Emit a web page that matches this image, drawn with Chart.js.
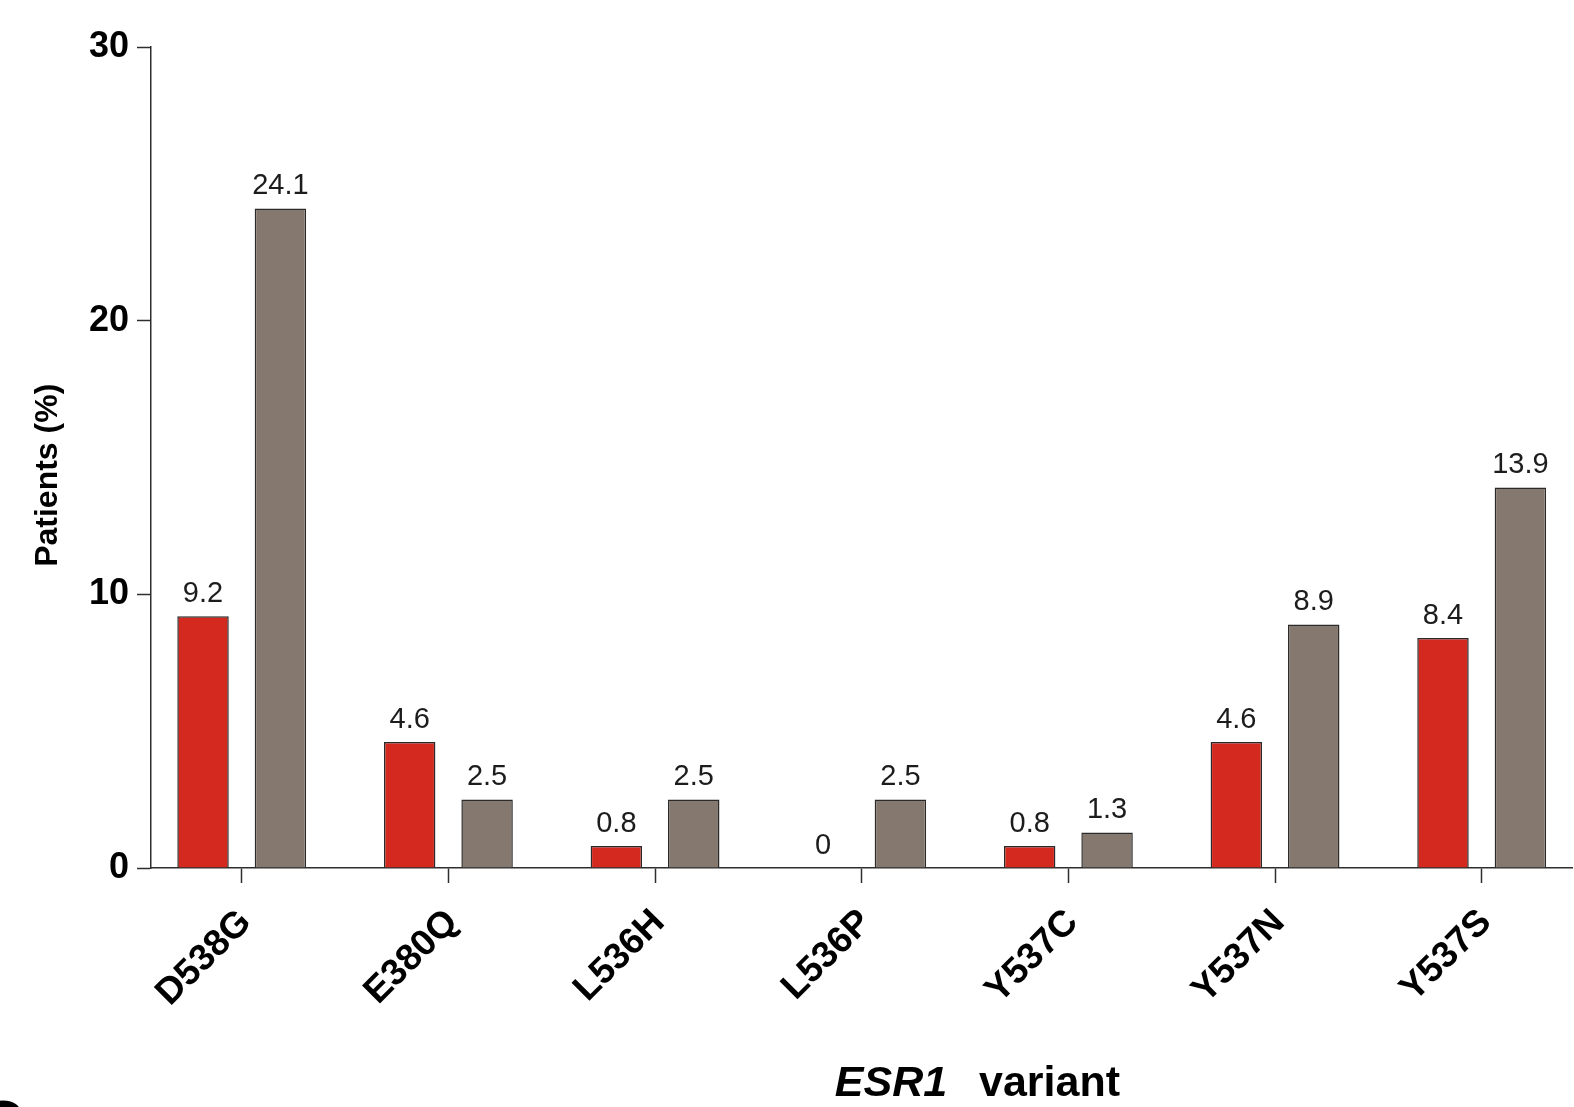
<!DOCTYPE html>
<html>
<head>
<meta charset="utf-8">
<title>ESR1 variants</title>
<script src="https://cdn.jsdelivr.net/npm/chart.js@4/dist/chart.umd.min.js"></script>
<style>
  html, body { margin: 0; padding: 0; background: #ffffff; overflow: hidden; }
  #wrap { position: relative; width: 1574px; height: 1107px; }
  canvas { display: block; }
</style>
</head>
<body>
<div id="wrap"><canvas id="chart" width="1574" height="1107"></canvas></div>
<script>
// Variant categories and the share of patients (%) in each group
const variants = ['D538G', 'E380Q', 'L536H', 'L536P', 'Y537C', 'Y537N', 'Y537S'];
const groupRed = [9.2, 4.6, 0.8, 0, 0.8, 4.6, 8.4];
const groupGrey = [24.1, 2.5, 2.5, 2.5, 1.3, 8.9, 13.9];
const yTickValues = [0, 10, 20, 30];
const axisTitleItalic = 'ESR1';
const axisTitleRest = 'variant';
const panelLetter = 'C';

const FONT = '"Liberation Sans", Arial, Helvetica, sans-serif';
const AXIS_COLOR = '#2e2e2e';

Chart.defaults.font.family = FONT;

const toPoints = (vals) => vals.map((v, i) => ({ x: i, y: v }));

// Numbers printed above each bar
const valueLabels = {
  id: 'valueLabels',
  afterDatasetsDraw(chart) {
    const ctx = chart.ctx;
    ctx.save();
    ctx.font = '29px ' + FONT;
    ctx.fillStyle = '#1c1c1c';
    ctx.textAlign = 'center';
    ctx.textBaseline = 'alphabetic';
    chart.data.datasets.forEach((ds, di) => {
      chart.getDatasetMeta(di).data.forEach((bar, i) => {
        ctx.fillText(String(ds.data[i].y), bar.x, bar.y - 14.5);
      });
    });
    ctx.restore();
  }
};

// Horizontal axis title with the gene name in italics
const xAxisTitle = {
  id: 'xAxisTitle',
  afterDraw(chart) {
    const ctx = chart.ctx;
    const xs = chart.scales.x;
    ctx.save();
    const italicFont = 'italic bold 43px ' + FONT;
    const boldFont = 'bold 43px ' + FONT;
    ctx.font = italicFont;
    const w1 = ctx.measureText(axisTitleItalic).width;
    ctx.font = boldFont;
    const gap = ctx.measureText('  ').width + 8;
    const w2 = ctx.measureText(axisTitleRest).width;
    const total = w1 + gap + w2;
    const cx = xs.getPixelForValue(3.56);
    const startX = cx - total / 2;
    const baseY = 1096;
    ctx.fillStyle = '#000000';
    ctx.textAlign = 'left';
    ctx.textBaseline = 'alphabetic';
    ctx.font = italicFont;
    ctx.fillText(axisTitleItalic, startX, baseY);
    ctx.font = boldFont;
    ctx.fillText(axisTitleRest, startX + w1 + gap, baseY);
    // next panel's letter, cut by the lower edge
    ctx.font = 'bold 60px ' + FONT;
    ctx.textAlign = 'center';
    ctx.fillText(panelLetter, 2, 1142);
    ctx.restore();
  }
};

new Chart(document.getElementById('chart'), {
  type: 'bar',
  data: {
    datasets: [
      {
        label: 'Group 1',
        data: toPoints(groupRed),
        backgroundColor: '#d3291e',
        borderColor: '#2a2a2a',
        borderWidth: 1.5,
        categoryPercentage: 0.749,
        barPercentage: 0.665
      },
      {
        label: 'Group 2',
        data: toPoints(groupGrey),
        backgroundColor: '#85796f',
        borderColor: '#2a2a2a',
        borderWidth: 1.5,
        categoryPercentage: 0.749,
        barPercentage: 0.665
      }
    ]
  },
  options: {
    responsive: false,
    animation: false,
    devicePixelRatio: 1,
    layout: { padding: { top: 47, right: 2, left: 0, bottom: 0 } },
    plugins: {
      legend: { display: false },
      tooltip: { enabled: false },
      title: { display: false }
    },
    scales: {
      x: {
        type: 'linear',
        min: -0.439,
        max: 6.437,
        offset: false,
        afterBuildTicks: (s) => { s.ticks = variants.map((_, i) => ({ value: i })); },
        afterFit: (s) => { s.height = 239; },
        ticks: {
          autoSkip: false,
          minRotation: 45,
          maxRotation: 45,
          padding: 18,
          labelOffset: 4,
          color: '#000000',
          font: { size: 37, weight: 'bold' },
          callback: (v) => variants[v]
        },
        grid: {
          display: true,
          offset: false,
          drawOnChartArea: false,
          drawTicks: true,
          tickLength: 15,
          tickWidth: 1.5,
          tickColor: AXIS_COLOR
        },
        border: { display: true, color: AXIS_COLOR, width: 1.5 }
      },
      y: {
        min: 0,
        max: 30,
        afterBuildTicks: (s) => { s.ticks = yTickValues.map((v) => ({ value: v })); },
        afterFit: (s) => { s.width = 151; },
        ticks: {
          padding: 8,
          color: '#000000',
          font: { size: 36, weight: 'bold' }
        },
        grid: {
          drawOnChartArea: false,
          drawTicks: true,
          tickLength: 14,
          tickWidth: 1.5,
          tickColor: AXIS_COLOR
        },
        border: { display: true, color: AXIS_COLOR, width: 1.5 },
        title: {
          display: true,
          text: 'Patients (%)    ',
          color: '#000000',
          font: { size: 32, weight: 'bold' },
          padding: { top: 29, bottom: 0 }
        }
      }
    }
  },
  plugins: [valueLabels, xAxisTitle]
});
</script>
</body>
</html>
